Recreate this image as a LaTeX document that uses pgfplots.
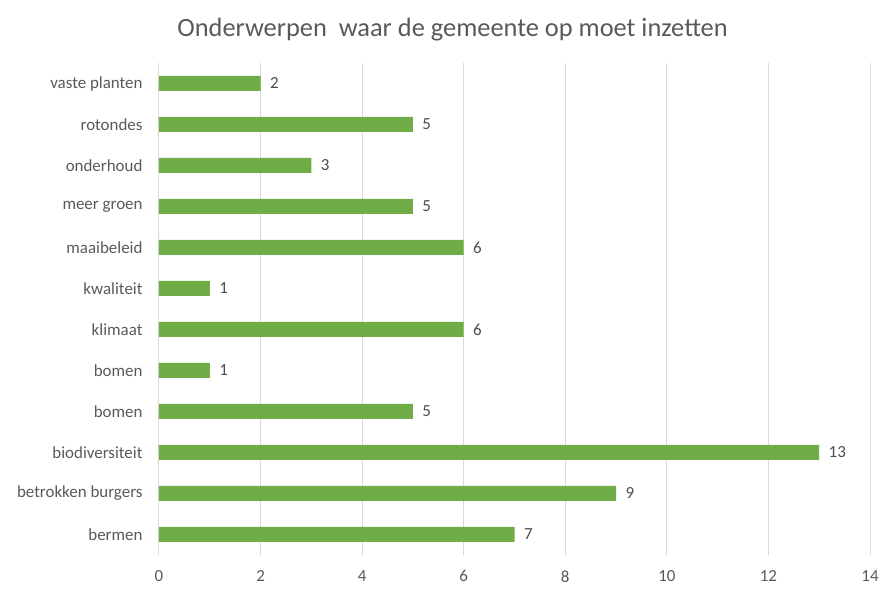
\documentclass[border=0pt]{standalone}
\usepackage{fontspec}
\setmainfont{Carlito}
\usepackage{pgfplots}
\pgfplotsset{compat=1.18}
\definecolor{bargreen}{HTML}{70AD47}
\definecolor{txtgray}{HTML}{595959}
\definecolor{gridgray}{HTML}{D9D9D9}
\begin{document}
\begin{tikzpicture}
\path[use as bounding box] (-159bp,-41bp) rectangle (737bp,555bp);
\begin{axis}[
  at={(0,0)}, anchor=south west,
  scale only axis,
  width=711bp, height=492bp,
  xbar, bar width=15bp,
  xmin=0, xmax=14, ymin=-0.5, ymax=11.5,
  xtick={0,2,...,14},
  ytick={0,...,11},
  yticklabels={bermen,betrokken burgers,biodiversiteit,bomen,bomen,klimaat,kwaliteit,maaibeleid,meer groen,onderhoud,rotondes,vaste planten},
  axis line style={draw=none},
  major tick length=0pt,
  xmajorgrids, grid style={gridgray, line width=1bp},
  tick label style={font=\fontsize{17}{19}\selectfont, text=txtgray},
  /pgf/number format/assume math mode=true,
  xticklabel style={yshift=-12bp},
  yticklabel style={xshift=-13bp},
  nodes near coords,
  nodes near coords style={font=\fontsize{17}{19}\selectfont, text=txtgray!85!black, xshift=6bp},
  title={Onderwerpen\ \ waar de gemeente op moet inzetten},
  title style={font=\fontsize{26.5}{30}\selectfont, text=txtgray, at={(0.5,1)}, xshift=-62bp, yshift=12bp},
  clip=false,
]
\addplot[fill=bargreen, draw=none] coordinates {
(7,0) (9,1) (13,2) (5,3) (1,4) (6,5) (1,6) (6,7) (5,8) (3,9) (5,10) (2,11)
};
\end{axis}
\end{tikzpicture}
\end{document}
